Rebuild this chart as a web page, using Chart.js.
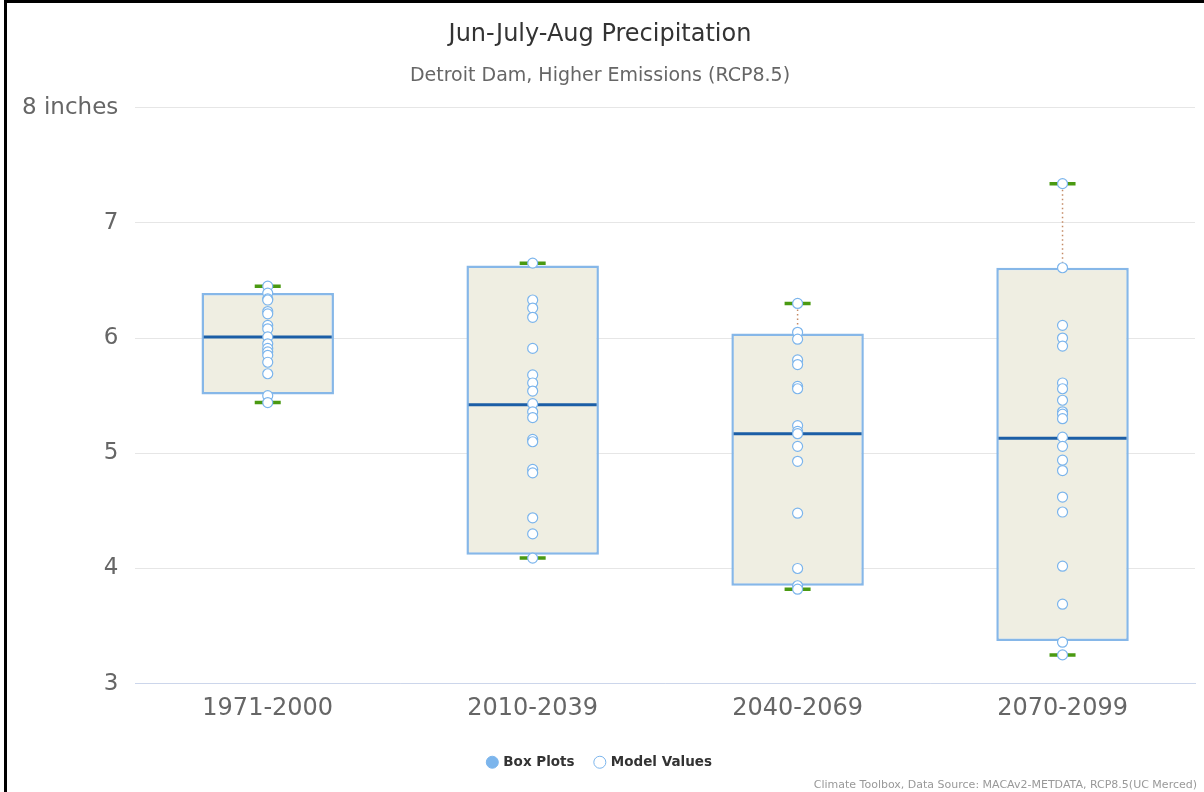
<!DOCTYPE html>
<html>
<head>
<meta charset="utf-8">
<script src="https://cdn.jsdelivr.net/npm/chart.js@4.4.1/dist/chart.umd.min.js"></script>
<style>
  html, body { margin: 0; padding: 0; background: #fff; }
  #wrap { position: relative; width: 1204px; height: 792px; overflow: hidden; }
  #frame { position: absolute; left: 4px; top: 0; width: 1200px; height: 792px;
           border-left: 3px solid #000; border-top: 3px solid #000; box-sizing: border-box; pointer-events: none; }
  #credits { position: absolute; right: 7px; bottom: 1px; font: 11px "DejaVu Sans", sans-serif; color: #999; }
</style>
</head>
<body>
<div id="wrap">
  <canvas id="boxChart" width="1204" height="792"></canvas>
  <div id="frame"></div>
  <div id="credits">Climate Toolbox, Data Source: MACAv2-METDATA, RCP8.5(UC Merced)</div>
</div>
<script>
// periods on the x axis
const periods = ['1971-2000', '2010-2039', '2040-2069', '2070-2099'];

// box plot statistics (inches)
const whiskerLow = [5.44, 4.09, 3.82, 3.25];
const boxLow = [5.51, 4.12, 3.85, 3.37];
const medians = [6.01, 5.42, 5.17, 5.13];
const boxHigh = [6.39, 6.63, 6.04, 6.61];
const whiskerHigh = [6.45, 6.65, 6.30, 7.34];

// individual model values per period
const models1971 = [6.45, 6.39, 6.34, 6.33, 6.23, 6.21, 6.11, 6.08, 6.01, 5.95, 5.91, 5.88, 5.85, 5.79, 5.69, 5.50, 5.44];
const models2010 = [6.65, 6.33, 6.26, 6.18, 5.91, 5.68, 5.61, 5.54, 5.43, 5.36, 5.31, 5.12, 5.10, 4.86, 4.83, 4.44, 4.30, 4.09];
const models2040 = [6.30, 6.05, 5.99, 5.81, 5.77, 5.58, 5.56, 5.24, 5.19, 5.17, 5.06, 4.93, 4.48, 4.00, 3.85, 3.82];
const models2070 = [7.34, 6.61, 6.11, 6.00, 5.93, 5.61, 5.56, 5.46, 5.36, 5.34, 5.30, 5.14, 5.06, 4.94, 4.85, 4.62, 4.49, 4.02, 3.69, 3.36, 3.25];
const modelValues = [models1971, models2010, models2040, models2070];

// y axis ticks
const yTicks = [3, 4, 5, 6, 7, 8];

// build the point lists the datasets need
let modelPoints = [];
modelValues.forEach((vals, i) => {
    vals.forEach(v => modelPoints.push({ x: periods[i], y: v }));
});

let stemPoints = [];
periods.forEach((p, i) => {
    stemPoints.push({ x: p, y: boxHigh[i] }, { x: p, y: whiskerHigh[i] }, { x: p, y: null });
    stemPoints.push({ x: p, y: boxLow[i] }, { x: p, y: whiskerLow[i] }, { x: p, y: null });
});

let capPoints = [];
periods.forEach((p, i) => {
    capPoints.push({ x: p, y: whiskerHigh[i] }, { x: p, y: whiskerLow[i] });
});

const medianPoints = periods.map((p, i) => ({ x: p, y: medians[i] }));

const font = '"DejaVu Sans", sans-serif';

const ctx = document.getElementById('boxChart').getContext('2d');
const boxChart = new Chart(ctx, {
    data: {
        labels: periods,
        datasets: [
            {
                type: 'bar',
                label: 'Box Plots',
                data: periods.map((p, i) => [boxLow[i], boxHigh[i]]),
                backgroundColor: '#efeee2',
                borderColor: '#86b7e8',
                borderWidth: 2.5,
                borderSkipped: false,
                barPercentage: 0.5,
                categoryPercentage: 1,
                order: 5
            },
            {
                type: 'line',
                label: 'stems',
                data: stemPoints,
                borderColor: '#c48a66',
                borderWidth: 1.5,
                borderDash: [1.5, 3],
                pointRadius: 0,
                spanGaps: false,
                order: 4
            },
            {
                type: 'line',
                label: 'median',
                data: medianPoints,
                showLine: false,
                pointStyle: 'line',
                pointRadius: 64,
                pointHoverRadius: 64,
                borderColor: '#1b5ea6',
                borderWidth: 3,
                order: 3
            },
            {
                type: 'line',
                label: 'whiskers',
                data: capPoints,
                showLine: false,
                pointStyle: 'line',
                pointRadius: 13,
                pointHoverRadius: 13,
                borderColor: '#4a9a12',
                borderWidth: 3.5,
                order: 2
            },
            {
                type: 'line',
                label: 'Model Values',
                data: modelPoints,
                showLine: false,
                pointStyle: 'circle',
                pointRadius: 5,
                pointBackgroundColor: '#ffffff',
                pointBorderColor: '#7cb5ec',
                pointBorderWidth: 1.2,
                order: 1
            }
        ]
    },
    options: {
        responsive: false,
        animation: false,
        layout: {
            autoPadding: false,
            padding: { left: 5, right: 9, top: 0, bottom: 13 }
        },
        plugins: {
            title: {
                display: true,
                text: 'Jun-July-Aug Precipitation',
                color: '#333333',
                font: { family: font, size: 24, weight: 'normal' },
                padding: { top: 20, bottom: 16 }
            },
            subtitle: {
                display: true,
                text: 'Detroit Dam, Higher Emissions (RCP8.5)',
                color: '#666666',
                font: { family: font, size: 19 },
                padding: { top: 0, bottom: 20 }
            },
            legend: {
                position: 'bottom',
                labels: {
                    usePointStyle: true,
                    boxWidth: 8.5,
                    boxHeight: 8.5,
                    padding: 21,
                    color: '#333333',
                    font: { family: font, size: 13.5, weight: 'bold' },
                    generateLabels: function (chart) {
                        return [
                            { text: 'Box Plots', fillStyle: '#7cb5ec', strokeStyle: '#7cb5ec', lineWidth: 1, pointStyle: 'circle', datasetIndex: 0, fontColor: '#333333' },
                            { text: 'Model Values', fillStyle: '#ffffff', strokeStyle: '#7cb5ec', lineWidth: 1, pointStyle: 'circle', datasetIndex: 4, fontColor: '#333333' }
                        ];
                    }
                }
            },
            tooltip: { enabled: false }
        },
        scales: {
            x: {
                type: 'category',
                grid: { display: false, drawTicks: false },
                border: { display: true, color: '#ccd6eb', width: 1 },
                ticks: {
                    color: '#666666',
                    padding: 11,
                    font: { family: font, size: 24 }
                }
            },
            y: {
                min: yTicks[0],
                max: yTicks[yTicks.length - 1],
                afterBuildTicks: function (axis) {
                    axis.ticks = yTicks.map(v => ({ value: v }));
                },
                grid: { color: '#e6e6e6', drawTicks: false },
                border: { display: false },
                ticks: {
                    color: '#666666',
                    padding: 17,
                    font: { family: font, size: 23 },
                    callback: function (value) {
                        return value === 8 ? '8 inches' : value;
                    }
                }
            }
        }
    }
});
</script>
</body>
</html>
